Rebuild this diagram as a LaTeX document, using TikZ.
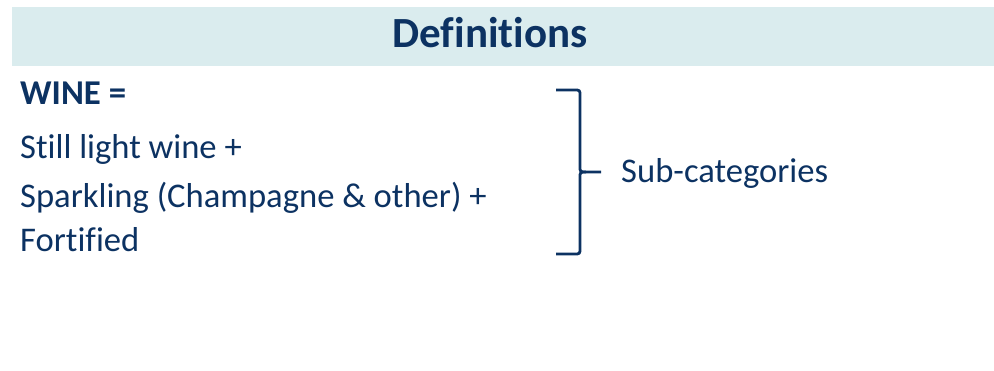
\documentclass[tikz,border=0pt]{standalone}
\usepackage{fontspec}
\setmainfont{Carlito}[Ligatures={NoCommon}]
\definecolor{navy}{RGB}{12,50,98}
\definecolor{band}{RGB}{218,236,238}
\begin{document}
\begin{tikzpicture}[x=1pt,y=-1pt,
  body/.style={anchor=base west,inner sep=0pt,text=navy,font=\fontsize{34.6}{40}\selectfont},
  bracestyle/.style={draw=navy,line width=2.8pt,line join=round}]
\useasboundingbox (0,0) rectangle (994,371);
\fill[band] (12,7) rectangle (994,66);
\node[anchor=base,inner sep=0pt,text=navy,font=\fontsize{43}{50}\selectfont\bfseries] (title) at (490,48) {Definitions};
\node[body,font=\fontsize{34.8}{40}\selectfont\bfseries] (wine) at (20,105) {WINE =};
\node[body] (still) at (20,159) {Still light wine +};
\node[body] (spark) at (20,208) {Sparkling (Champagne \& other) +};
\node[body] (fort) at (20,252) {Fortified};
\node[body] (sub) at (621,183) {Sub-categories};
\coordinate (btop) at (556,90);
\coordinate (bbot) at (556,254);
\coordinate (btip) at (601,172);
\draw[bracestyle] (btop) -- (574,90) .. controls (580,90) .. (580,96) -- (580,166)
  .. controls (580,172) .. (586,172) -- (btip);
\draw[bracestyle] (586,172) .. controls (580,172) .. (580,178) -- (580,248)
  .. controls (580,254) .. (574,254) -- (bbot);
\end{tikzpicture}
\end{document}
